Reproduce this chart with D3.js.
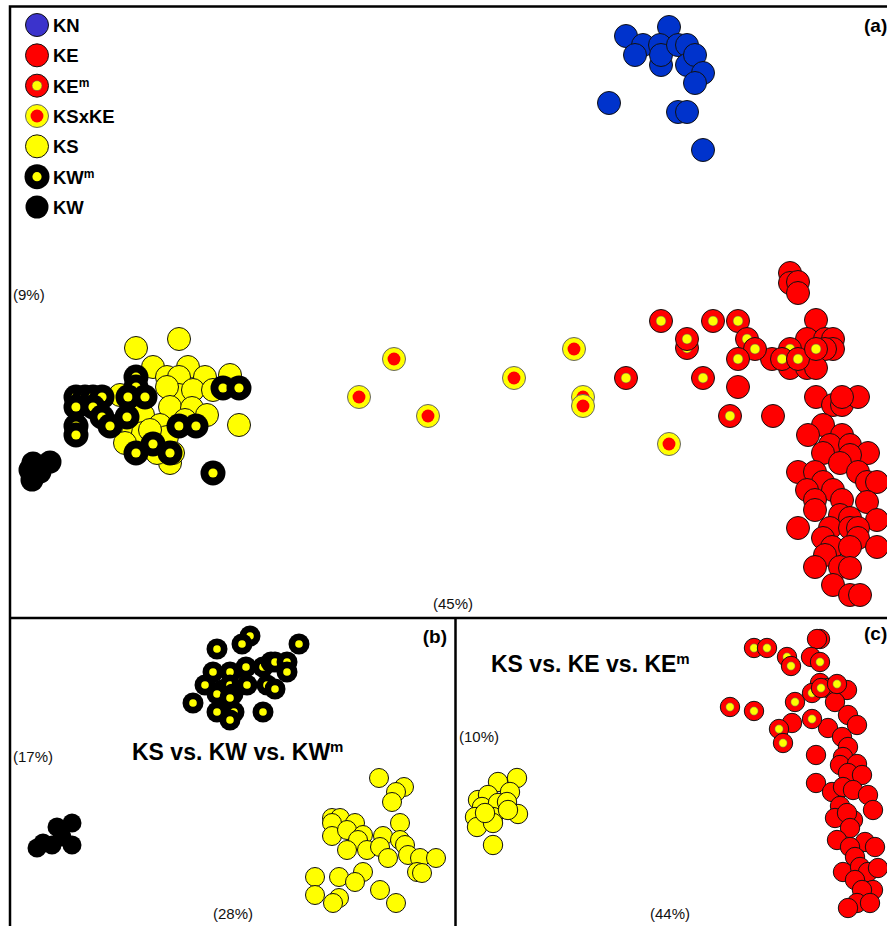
<!DOCTYPE html>
<html>
<head>
<meta charset="utf-8">
<script src="https://cdn.jsdelivr.net/npm/d3@7"></script>
<style>
  body { margin: 0; background: #fff; }
  svg { display: block; font-family: "Liberation Sans", Arial, sans-serif; }
</style>
</head>
<body>
<div id="chart"></div>
<script>
// PCA scores, one array per group, [PC1, PC2]

// panel (a)
const aKN = [[61.6,58.4],[63.3,57.5],[65.9,59.3],[62.5,56.5],[65.0,57.5],[65.1,55.5],[65.1,56.5],[66.8,57.5],[67.7,57.5],[67.7,55.5],[68.5,56.5],[69.3,54.7],[68.5,53.7],[59.9,51.7],[66.8,50.8],[67.7,50.8],[69.3,47.0]];
const aKS = [[12.6,27.2],[16.9,28.1],[14.3,25.3],[17.8,25.3],[15.7,24.3],[16.9,24.3],[19.5,24.3],[22.0,24.5],[11.0,22.5],[16.9,22.5],[15.7,23.3],[18.3,23.0],[20.3,23.0],[16.0,21.3],[18.2,21.2],[19.7,20.5],[13.3,20.5],[22.9,19.5],[15.0,19.5],[12.3,18.7],[13.3,18.7],[15.7,18.3],[11.5,17.7],[16.0,15.7],[14.7,16.7],[16.3,16.7],[14.0,19.0],[17.5,20.0]];
const aKWm = [[12.6,24.3],[12.6,23.3],[6.6,22.3],[7.5,22.3],[8.3,22.3],[9.2,22.3],[6.6,21.3],[8.3,21.3],[11.8,22.3],[13.5,22.3],[9.2,20.3],[11.7,20.3],[6.6,19.4],[6.6,18.5],[10.0,19.4],[16.9,19.4],[18.6,19.4],[21.3,23.2],[22.9,23.2],[14.3,17.6],[12.6,16.7],[16.0,16.7],[20.3,14.7]];
const aKW = [[2.3,15.7],[4.0,15.8],[2.2,14.0],[3.0,14.8],[2.0,15.0]];
const aKSxKE = [[38.4,26.1],[34.9,22.3],[41.8,20.4],[50.4,24.2],[56.4,27.1],[57.3,22.3],[57.3,21.4],[65.9,17.6]];
const aKEm = [[61.6,24.2],[65.1,29.9],[70.3,29.9],[72.8,29.9],[67.7,27.2],[67.7,28.1],[73.7,28.1],[74.5,27.1],[72.8,26.1],[69.3,24.2],[72.0,20.4],[78.0,27.1],[77.2,26.1],[78.8,26.1],[80.6,27.1]];
const aKE = [[78.0,34.7],[78.0,33.7],[78.8,33.8],[78.8,32.7],[80.6,30.0],[79.7,28.1],[81.5,28.1],[82.3,28.1],[82.3,27.1],[81.5,27.1],[76.2,26.1],[78.0,25.2],[79.7,25.2],[80.6,25.2],[72.8,23.3],[76.3,20.4],[80.6,22.3],[82.3,21.5],[83.2,21.5],[84.8,22.3],[83.2,22.3],[81.3,19.5],[79.8,18.5],[83.2,18.5],[82.0,17.5],[84.0,17.5],[85.8,16.7],[81.3,16.7],[84.0,16.5],[83.0,15.7],[78.8,14.8],[80.5,14.8],[84.8,14.8],[81.3,13.8],[85.7,13.8],[86.7,13.8],[79.7,13.0],[82.3,13.0],[83.2,12.0],[80.5,12.0],[85.7,11.8],[80.5,11.0],[83.0,10.5],[86.7,10.0],[84.0,10.2],[78.8,9.2],[82.0,9.2],[84.0,9.2],[84.8,9.2],[81.3,8.2],[84.8,8.2],[82.2,7.3],[84.0,7.3],[86.7,7.3],[81.5,6.5],[80.5,5.3],[83.0,5.3],[84.0,5.2],[82.3,3.5],[84.0,2.5],[85.0,2.5]];

// panel (b)
const bKWm = [[24.0,29.4],[23.2,28.6],[20.7,28.1],[28.9,28.6],[20.3,25.8],[22.0,25.8],[23.6,26.3],[25.3,26.3],[26.1,26.8],[26.5,26.8],[27.7,26.8],[27.7,25.8],[19.5,24.5],[21.2,24.0],[22.0,24.5],[23.2,24.9],[23.7,24.5],[25.7,24.5],[26.5,24.1],[20.7,23.6],[22.3,23.6],[22.0,23.2],[18.3,22.7],[20.7,21.8],[22.4,21.8],[22.0,21.0],[25.3,21.8]];
const bKW = [[6.2,10.7],[4.7,10.3],[6.2,8.5],[4.2,8.5],[2.7,8.2],[3.3,8.7],[5.2,9.3]];
const bKS = [[36.9,15.2],[39.4,14.3],[38.6,13.8],[38.2,12.8],[32.2,11.2],[33.0,11.2],[32.2,10.7],[34.5,10.7],[39.0,10.7],[32.2,9.4],[33.7,10.0],[35.3,9.5],[34.8,9.0],[37.3,9.4],[39.0,9.0],[39.5,8.5],[33.7,8.0],[35.7,8.0],[37.0,8.3],[37.8,7.2],[39.8,7.5],[41.0,7.2],[42.6,7.2],[40.7,5.8],[41.2,5.7],[35.3,5.8],[30.5,5.3],[32.9,5.3],[34.5,4.8],[37.0,4.0],[30.5,3.5],[32.9,3.2],[32.3,2.7],[38.6,2.7]];

// panel (c)
const cKS = [[6.2,15.2],[4.3,14.8],[5.5,13.8],[2.3,13.0],[3.3,13.5],[2.7,12.3],[4.3,12.7],[5.2,12.8],[6.3,11.6],[2.0,11.3],[3.8,11.3],[5.3,12.0],[2.2,10.3],[3.8,10.7],[3.0,11.7],[3.8,8.5]];
const cKEm = [[29.9,28.2],[31.2,28.2],[33.2,27.3],[33.6,26.4],[36.5,26.8],[27.5,22.3],[29.9,21.9],[34.0,22.8],[35.7,23.7],[36.6,24.2],[38.2,24.6],[35.7,21.1],[32.4,20.1],[32.8,18.7]];
const cKE = [[36.5,29.1],[36.2,29.1],[35.6,27.3],[36.5,24.7],[37.3,24.2],[38.2,23.7],[39.2,24.0],[38.0,22.8],[33.7,20.7],[39.3,21.5],[40.2,20.5],[37.3,20.2],[38.7,19.3],[36.1,17.5],[39.3,18.3],[38.8,17.3],[38.5,16.5],[40.2,16.6],[39.3,15.7],[40.7,15.5],[36.1,14.7],[37.7,13.8],[38.8,14.3],[39.8,14.0],[41.3,13.5],[38.5,12.4],[41.8,12.0],[38.0,11.2],[39.8,11.0],[39.2,11.7],[39.5,10.2],[38.2,9.0],[41.0,8.8],[42.0,8.3],[39.5,8.3],[40.0,7.3],[38.8,5.8],[40.5,6.3],[41.3,5.8],[42.3,6.2],[40.0,5.0],[41.8,4.0],[40.7,4.0],[40.2,2.7],[41.5,2.7],[39.3,2.2]];

// legend + labels
const legendLabels = ["KN", "KE", "KE", "KSxKE", "KS", "KW", "KW"];
const legendSup = ["", "", "m", "", "", "m", ""];
const legendKinds = ["KN", "KE", "KEm", "KSxKE", "KS", "KWm", "KW"];
const axisPct = { a: ["(45%)", "(9%)"], b: ["(28%)", "(17%)"], c: ["(44%)", "(10%)"] };

function drawChart() {
    "use strict";
    const W = 887, H = 926;
    const svg = d3.select("#chart").append("svg").attr("width", W).attr("height", H);

    const colors = { KN: "#0033cc", KNleg: "#3b33cc", KE: "#ff0000", KS: "#ffff00", KW: "#000000" };

    // panel boxes
    const panels = {
        a: { x0: 11, x1: 887, y0: 7, y1: 618, xd: [0.1, 87.7], yd: [0.2, 61.3], r: 11.5 },
        b: { x0: 11, x1: 456, y0: 618, y1: 926, xd: [0.1, 44.6], yd: [0.4, 31.2], r: 9.5 },
        c: { x0: 456, x1: 887, y0: 618, y1: 926, xd: [0.1, 43.2], yd: [0.4, 31.2], r: 9.7 }
    };

    // draw one marker type
    function marks(g, data, x, y, kind, r) {
        const sel = g.append("g").selectAll("g").data(data).enter().append("g")
            .attr("transform", d => `translate(${x(d[0])},${y(d[1])})`);
        if (kind === "KN" || kind === "KE" || kind === "KS" || kind === "KNleg") {
            sel.append("circle").attr("r", r).attr("fill", colors[kind])
                .attr("stroke", "#111").attr("stroke-width", 1);
        } else if (kind === "KW") {
            sel.append("circle").attr("r", r).attr("fill", "#000");
        } else if (kind === "KEm") {
            sel.append("circle").attr("r", r).attr("fill", colors.KE).attr("stroke", "#111").attr("stroke-width", 1);
            sel.append("circle").attr("r", r * 0.43).attr("fill", colors.KS).attr("stroke", "#555").attr("stroke-width", 0.5);
        } else if (kind === "KSxKE") {
            sel.append("circle").attr("r", r).attr("fill", colors.KS).attr("stroke", "#666").attr("stroke-width", 1);
            sel.append("circle").attr("r", r * 0.56).attr("fill", colors.KE);
        } else if (kind === "KWm") {
            sel.append("circle").attr("r", r + 1).attr("fill", "#000");
            sel.append("circle").attr("r", r * 0.4).attr("fill", colors.KS);
        }
    }

    function panel(key, layers) {
        const p = panels[key];
        const x = d3.scaleLinear().domain(p.xd).range([p.x0, p.x1]);
        const y = d3.scaleLinear().domain(p.yd).range([p.y1, p.y0]);
        svg.append("clipPath").attr("id", "clip-" + key).append("rect")
            .attr("x", p.x0).attr("y", p.y0).attr("width", p.x1 - p.x0).attr("height", p.y1 - p.y0);
        const g = svg.append("g").attr("clip-path", `url(#clip-${key})`);
        layers.forEach(l => marks(g, l[0], x, y, l[1], p.r));
        return { x, y, p };
    }

    panel("a", [[aKS, "KS"], [aKW, "KW"], [aKWm, "KWm"], [aKSxKE, "KSxKE"], [aKE, "KE"], [aKEm, "KEm"], [aKN, "KN"]]);
    panel("b", [[bKS, "KS"], [bKW, "KW"], [bKWm, "KWm"]]);
    panel("c", [[cKS, "KS"], [cKE, "KE"], [cKEm, "KEm"]]);

    // frames
    svg.append("path")
        .attr("d", "M10,940 V6.5 H900 M10,618 H900 M455.5,618 V940")
        .attr("fill", "none").attr("stroke", "#000").attr("stroke-width", 2.5);

    // legend
    const ly = d3.scalePoint().domain(d3.range(legendKinds.length)).range([25, 207]);
    const leg = svg.append("g");
    legendKinds.forEach((k, i) => {
        const kind = k === "KN" ? "KNleg" : k;
        marks(leg, [[37, ly(i)]], v => v, v => v, kind, 11.5);
        const t = leg.append("text").attr("x", 53).attr("y", ly(i) + 7)
            .attr("font-size", 18.5).attr("font-weight", "bold").text(legendLabels[i]);
        if (legendSup[i]) t.append("tspan").attr("font-size", 12).attr("dy", -6).text(legendSup[i]);
    });

    // panel letters
    function bold(x, y, s, anchor) {
        svg.append("text").attr("x", x).attr("y", y).attr("font-size", 19).attr("font-weight", "bold")
            .attr("text-anchor", anchor || "start").text(s);
    }
    bold(864, 32, "(a)");
    bold(447, 643, "(b)", "end");
    bold(864, 640, "(c)");

    // titles
    function title(x, y, s, sup) {
        const t = svg.append("text").attr("x", x).attr("y", y).attr("font-size", 23).attr("font-weight", "bold").text(s);
        t.append("tspan").attr("font-size", 15).attr("dy", -8).text(sup);
    }
    title(132, 760, "KS vs. KW vs. KW", "m");
    title(491, 672, "KS vs. KE vs. KE", "m");

    // explained variance labels
    function pct(x, y, s) {
        svg.append("text").attr("x", x).attr("y", y).attr("font-size", 15).attr("fill", "#111").text(s);
    }
    pct(433, 609, axisPct.a[0]);
    pct(13, 300, axisPct.a[1]);
    pct(213, 919, axisPct.b[0]);
    pct(13, 762, axisPct.b[1]);
    pct(650, 919, axisPct.c[0]);
    pct(459, 742, axisPct.c[1]);
}

drawChart();
</script>
</body>
</html>
